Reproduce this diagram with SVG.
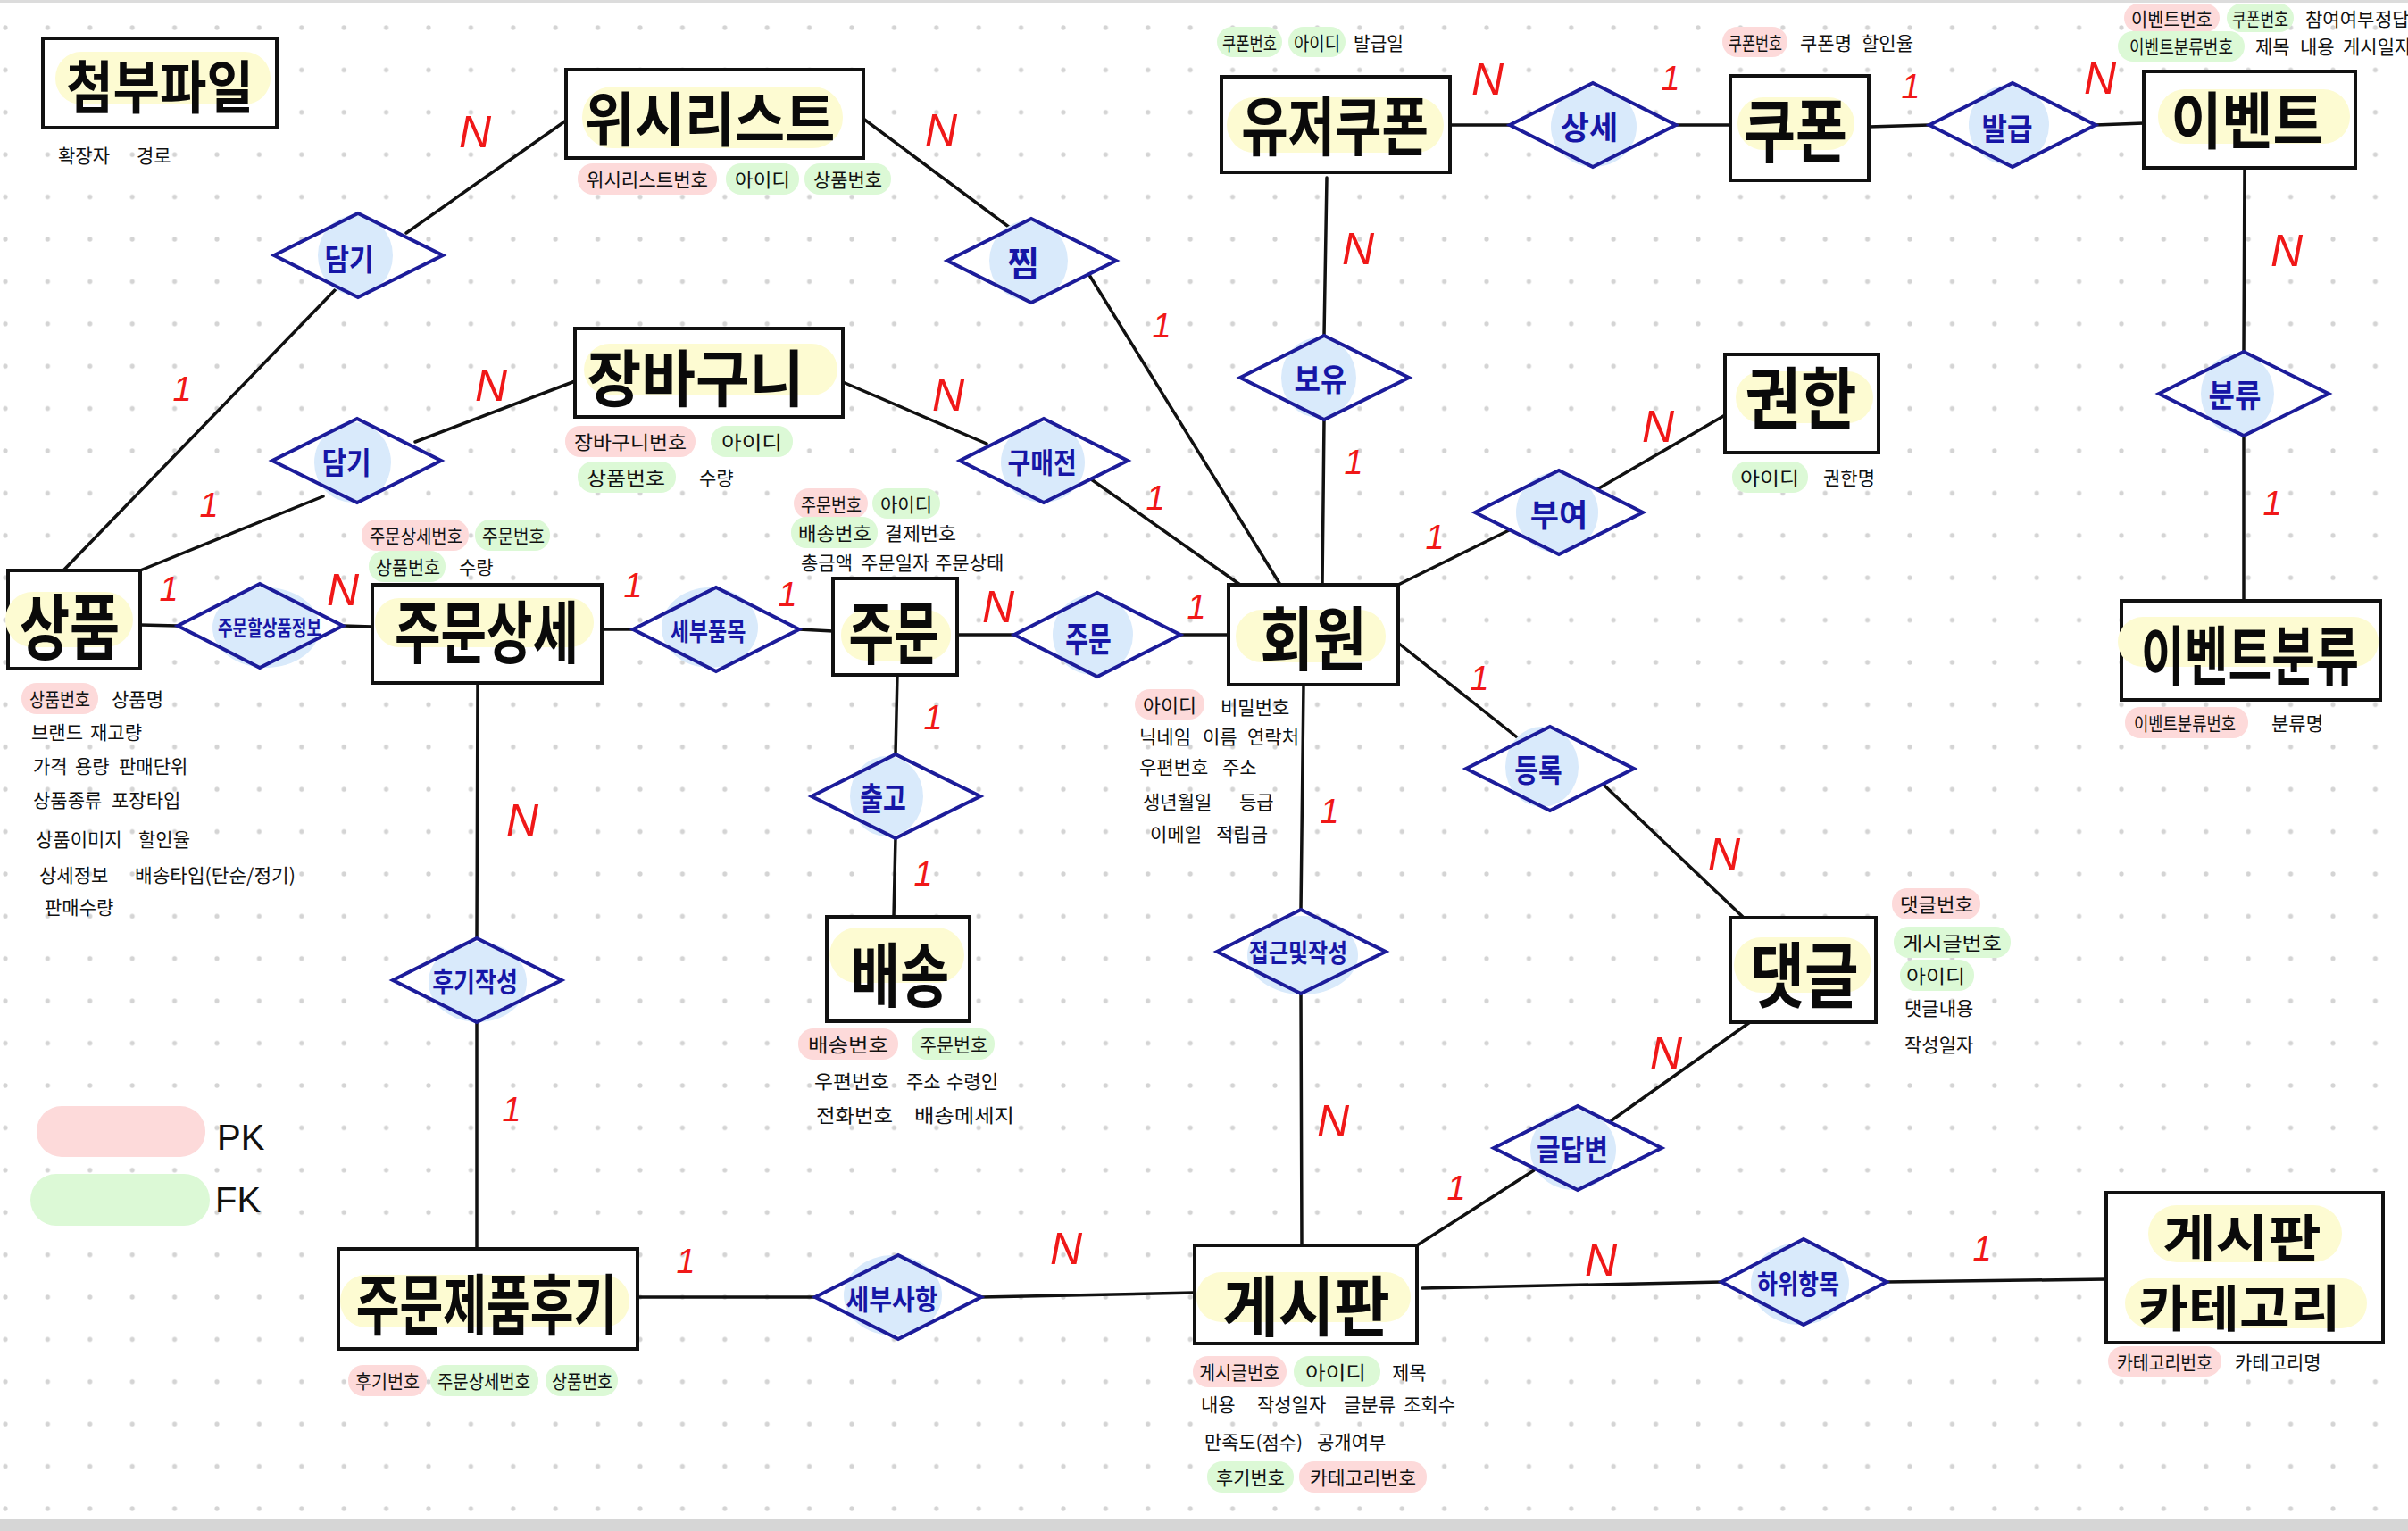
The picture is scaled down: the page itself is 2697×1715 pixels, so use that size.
<svg xmlns="http://www.w3.org/2000/svg" width="2697" height="1715" viewBox="0 0 2697 1715">
<style>
.box{fill:#fff;stroke:#111;stroke-width:4}
.hl{fill:#fdfbd2}
.title{font-family:"Noto Sans CJK KR","Noto Sans",sans-serif;font-weight:700;fill:#0a0a0a;text-anchor:middle;dominant-baseline:central}
.dfill{fill:#fff}
.dline{fill:none;stroke:#1c1c9a;stroke-width:4;stroke-linejoin:miter}
.blob{fill:#d9eafb}
.rt{font-family:"Noto Sans CJK KR","Noto Sans",sans-serif;font-weight:700;fill:#1616a6;text-anchor:middle;dominant-baseline:central}
.at{font-family:"Noto Sans CJK KR","Noto Sans",sans-serif;font-size:21px;fill:#111;dominant-baseline:central}
.pk{fill:#fddada}
.fk{fill:#dcf9d6}
.conn line{stroke:#111;stroke-width:3.5;stroke-linecap:round}
.card{font-family:"Liberation Sans",sans-serif;font-style:italic;fill:#f01818;text-anchor:middle;dominant-baseline:central}
.n{font-size:50px}
.one{font-size:38px}
.leg{font-family:"Liberation Sans",sans-serif;font-size:40px;fill:#111;dominant-baseline:central}
</style>
<defs>
<pattern id="dots" x="-17.7" y="7.3" width="47.4" height="47.4" patternUnits="userSpaceOnUse">
<circle cx="23.7" cy="23.7" r="2.6" fill="#d4d4d4"/>
</pattern>
</defs>
<rect x="0" y="0" width="2697" height="1715" fill="#fff"/>
<rect x="0" y="0" width="2697" height="1702" fill="url(#dots)"/>
<rect x="0" y="0" width="2697" height="3" fill="#dcdcdc"/>
<rect x="0" y="1702" width="2697" height="13" fill="#d6d6d6"/>

<g id="connectors" class="conn">
<line x1="634" y1="135" x2="455" y2="261"/>
<line x1="377" y1="323" x2="71" y2="639"/>
<line x1="644" y1="427" x2="465" y2="495"/>
<line x1="362" y1="556" x2="157" y2="639"/>
<line x1="967" y1="133" x2="1131" y2="255"/>
<line x1="1220" y1="308" x2="1434" y2="655"/>
<line x1="944" y1="428" x2="1105" y2="497"/>
<line x1="1218" y1="534" x2="1389" y2="655"/>
<line x1="157" y1="700" x2="199" y2="701"/>
<line x1="384" y1="701" x2="417" y2="702"/>
<line x1="674" y1="705" x2="709" y2="705"/>
<line x1="895" y1="705" x2="933" y2="707"/>
<line x1="1072" y1="711" x2="1136" y2="711"/>
<line x1="1322" y1="711" x2="1376" y2="711"/>
<line x1="1005" y1="756" x2="1003" y2="845"/>
<line x1="1003" y1="938" x2="1001" y2="1027"/>
<line x1="1624" y1="140" x2="1691" y2="140"/>
<line x1="1877" y1="140" x2="1938" y2="140"/>
<line x1="2093" y1="142" x2="2161" y2="140"/>
<line x1="2347" y1="140" x2="2401" y2="138"/>
<line x1="1486" y1="199" x2="1483" y2="376"/>
<line x1="1483" y1="470" x2="1481" y2="655"/>
<line x1="1932" y1="465" x2="1789" y2="548"/>
<line x1="1690" y1="594" x2="1566" y2="655"/>
<line x1="2514" y1="188" x2="2513" y2="394"/>
<line x1="2513" y1="487" x2="2513" y2="673"/>
<line x1="1567" y1="721" x2="1703" y2="829"/>
<line x1="1796" y1="879" x2="1953" y2="1028"/>
<line x1="1460" y1="767" x2="1457" y2="1019"/>
<line x1="1457" y1="1112" x2="1458" y2="1395"/>
<line x1="1960" y1="1145" x2="1805" y2="1255"/>
<line x1="1718" y1="1311" x2="1587" y2="1395"/>
<line x1="1593" y1="1443" x2="1928" y2="1436"/>
<line x1="2113" y1="1436" x2="2359" y2="1433"/>
<line x1="535" y1="765" x2="534" y2="1051"/>
<line x1="534" y1="1145" x2="534" y2="1399"/>
<line x1="714" y1="1453" x2="913" y2="1453"/>
<line x1="1099" y1="1453" x2="1338" y2="1448"/>
</g>

<!-- Entities -->
<g id="e-attach">
<rect class="box" x="48" y="43" width="262" height="100"/>
<rect class="hl" x="62" y="58" width="241" height="59" rx="29"/>
<text class="title" transform="translate(179,93) scale(1,1.11)" font-size="57">첨부파일</text>
<text class="at" x="65" y="173">확장자</text>
<text class="at" x="153" y="173">경로</text>
</g>

<g id="e-wishlist">
<rect class="box" x="634" y="78" width="333" height="99"/>
<rect class="hl" x="652" y="97" width="292" height="69" rx="34"/>
<text class="title" transform="translate(795,129) scale(1,1.08)" font-size="61">위시리스트</text>
<rect class="pk" x="647" y="183" width="156" height="35" rx="17"/>
<text class="at" x="657" y="200" textLength="136" lengthAdjust="spacingAndGlyphs">위시리스트번호</text>
<rect class="fk" x="813" y="183" width="82" height="35" rx="17"/>
<text class="at" x="823" y="200" textLength="62" lengthAdjust="spacingAndGlyphs">아이디</text>
<rect class="fk" x="901" y="183" width="97" height="35" rx="17"/>
<text class="at" x="911" y="200" textLength="77" lengthAdjust="spacingAndGlyphs">상품번호</text>
</g>

<g id="e-cart">
<rect class="box" x="644" y="368" width="300" height="99"/>
<rect class="hl" x="654" y="385" width="284" height="58" rx="29"/>
<text class="title" transform="translate(779,420) scale(1,1.05)" font-size="66">장바구니</text>
<rect class="pk" x="633" y="477" width="146" height="35" rx="17"/>
<text class="at" x="643" y="494" textLength="126" lengthAdjust="spacingAndGlyphs">장바구니번호</text>
<rect class="fk" x="796" y="477" width="92" height="35" rx="17"/>
<text class="at" x="808" y="494" textLength="68" lengthAdjust="spacingAndGlyphs">아이디</text>
<rect class="fk" x="647" y="517" width="110" height="35" rx="17"/>
<text class="at" x="657" y="534" textLength="88" lengthAdjust="spacingAndGlyphs">상품번호</text>
<text class="at" x="783" y="534">수량</text>
</g>

<g id="e-product">
<rect class="box" x="9" y="639" width="148" height="110"/>
<rect class="hl" x="6" y="663" width="143" height="62" rx="31"/>
<text class="title" transform="translate(78,697) scale(1,1.3)" font-size="61">상품</text>
<rect class="pk" x="24" y="765" width="86" height="35" rx="17"/>
<text class="at" x="33" y="782" textLength="68" lengthAdjust="spacingAndGlyphs">상품번호</text>
<text class="at" x="125" y="782">상품명</text>
<text class="at" x="35" y="819">브랜드</text>
<text class="at" x="101" y="819">재고량</text>
<text class="at" x="37" y="857">가격</text>
<text class="at" x="84" y="857">용량</text>
<text class="at" x="133" y="857">판매단위</text>
<text class="at" x="37" y="895">상품종류</text>
<text class="at" x="125" y="895">포장타입</text>
<text class="at" x="40" y="939">상품이미지</text>
<text class="at" x="155" y="939">할인율</text>
<text class="at" x="44" y="979">상세정보</text>
<text class="at" x="151" y="979" textLength="180" lengthAdjust="spacingAndGlyphs">배송타입(단순/정기)</text>
<text class="at" x="50" y="1015">판매수량</text>
</g>

<g id="e-orderdetail">
<rect class="box" x="417" y="655" width="257" height="110"/>
<rect class="hl" x="420" y="670" width="245" height="55" rx="27"/>
<text class="title" transform="translate(545,704) scale(1,1.35)" font-size="56">주문상세</text>
<rect class="pk" x="405" y="582" width="120" height="35" rx="17"/>
<text class="at" x="414" y="599" textLength="104" lengthAdjust="spacingAndGlyphs">주문상세번호</text>
<rect class="fk" x="532" y="582" width="84" height="35" rx="17"/>
<text class="at" x="540" y="599" textLength="70" lengthAdjust="spacingAndGlyphs">주문번호</text>
<rect class="fk" x="413" y="617" width="86" height="35" rx="17"/>
<text class="at" x="421" y="634" textLength="72" lengthAdjust="spacingAndGlyphs">상품번호</text>
<text class="at" x="514" y="634">수량</text>
</g>

<g id="e-order">
<rect class="box" x="933" y="648" width="139" height="108"/>
<rect class="hl" x="942" y="683" width="123" height="57" rx="28"/>
<text class="title" transform="translate(1001,704) scale(1,1.4)" font-size="55">주문</text>
<rect class="pk" x="889" y="547" width="83" height="34" rx="17"/>
<text class="at" x="897" y="564" textLength="68" lengthAdjust="spacingAndGlyphs">주문번호</text>
<rect class="fk" x="977" y="547" width="76" height="34" rx="17"/>
<text class="at" x="986" y="564" textLength="58" lengthAdjust="spacingAndGlyphs">아이디</text>
<rect class="fk" x="886" y="579" width="97" height="35" rx="17"/>
<text class="at" x="894" y="596" textLength="82" lengthAdjust="spacingAndGlyphs">배송번호</text>
<text class="at" x="991" y="596" textLength="80" lengthAdjust="spacingAndGlyphs">결제번호</text>
<text class="at" x="897" y="629" font-size="19">총금액</text>
<text class="at" x="964" y="629" font-size="18">주문일자</text>
<text class="at" x="1047" y="629" font-size="18">주문상태</text>
</g>

<g id="e-delivery">
<rect class="box" x="926" y="1027" width="160" height="117"/>
<rect class="hl" x="929" y="1039" width="151" height="62" rx="31"/>
<text class="title" transform="translate(1008,1088) scale(1,1.3)" font-size="60">배송</text>
<rect class="pk" x="894" y="1152" width="112" height="35" rx="17"/>
<text class="at" x="905" y="1169" textLength="90" lengthAdjust="spacingAndGlyphs">배송번호</text>
<rect class="fk" x="1021" y="1152" width="93" height="35" rx="17"/>
<text class="at" x="1030" y="1169" textLength="76" lengthAdjust="spacingAndGlyphs">주문번호</text>
<text class="at" x="912" y="1210" textLength="84" lengthAdjust="spacingAndGlyphs">우편번호</text>
<text class="at" x="1015" y="1210">주소</text>
<text class="at" x="1060" y="1210">수령인</text>
<text class="at" x="914" y="1248" textLength="86" lengthAdjust="spacingAndGlyphs">전화번호</text>
<text class="at" x="1024" y="1248" textLength="112" lengthAdjust="spacingAndGlyphs">배송메세지</text>
</g>

<g id="e-member">
<rect class="box" x="1376" y="655" width="190" height="112"/>
<rect class="hl" x="1384" y="683" width="168" height="59" rx="29"/>
<text class="title" transform="translate(1471,711) scale(1,1.2)" font-size="65">회원</text>
<rect class="pk" x="1271" y="772" width="78" height="34" rx="17"/>
<text class="at" x="1280" y="789" textLength="60" lengthAdjust="spacingAndGlyphs">아이디</text>
<text class="at" x="1367" y="791">비밀번호</text>
<text class="at" x="1276" y="824">닉네임</text>
<text class="at" x="1347" y="824">이름</text>
<text class="at" x="1397" y="824">연락처</text>
<text class="at" x="1276" y="858">우편번호</text>
<text class="at" x="1369" y="858">주소</text>
<text class="at" x="1280" y="897">생년월일</text>
<text class="at" x="1388" y="897">등급</text>
<text class="at" x="1288" y="933">이메일</text>
<text class="at" x="1362" y="933">적립금</text>
</g>

<g id="e-usercoupon">
<rect class="box" x="1368" y="86" width="256" height="107"/>
<rect class="hl" x="1374" y="109" width="243" height="62" rx="31"/>
<text class="title" transform="translate(1495,137) scale(1,1.25)" font-size="57">유저쿠폰</text>
<rect class="fk" x="1363" y="30" width="73" height="34" rx="17"/>
<text class="at" x="1369" y="47" textLength="61" lengthAdjust="spacingAndGlyphs">쿠폰번호</text>
<rect class="fk" x="1443" y="30" width="64" height="34" rx="17"/>
<text class="at" x="1449" y="47" textLength="52" lengthAdjust="spacingAndGlyphs">아이디</text>
<text class="at" x="1516" y="47" textLength="56" lengthAdjust="spacingAndGlyphs">발급일</text>
</g>

<g id="e-coupon">
<rect class="box" x="1938" y="85" width="155" height="117"/>
<rect class="hl" x="1946" y="109" width="131" height="59" rx="29"/>
<text class="title" transform="translate(2011,142) scale(1,1.25)" font-size="63">쿠폰</text>
<rect class="pk" x="1929" y="30" width="73" height="34" rx="17"/>
<text class="at" x="1936" y="47" textLength="60" lengthAdjust="spacingAndGlyphs">쿠폰번호</text>
<text class="at" x="2016" y="47" font-size="19">쿠폰명</text>
<text class="at" x="2085" y="47" font-size="19">할인율</text>
</g>

<g id="e-event">
<rect class="box" x="2401" y="80" width="237" height="108"/>
<rect class="hl" x="2417" y="100" width="215" height="61" rx="30"/>
<text class="title" transform="translate(2517,131) scale(1,1.12)" font-size="62">이벤트</text>
<rect class="pk" x="2379" y="4" width="107" height="32" rx="16"/>
<text class="at" x="2387" y="20" font-size="19" textLength="91" lengthAdjust="spacingAndGlyphs">이벤트번호</text>
<rect class="fk" x="2494" y="4" width="75" height="32" rx="16"/>
<text class="at" x="2500" y="20" font-size="19" textLength="63" lengthAdjust="spacingAndGlyphs">쿠폰번호</text>
<text class="at" x="2582" y="20" font-size="17">참여여부</text>
<text class="at" x="2660" y="20" font-size="17">정답</text>
<rect class="fk" x="2372" y="35" width="142" height="34" rx="17"/>
<text class="at" x="2385" y="51" font-size="19" textLength="116" lengthAdjust="spacingAndGlyphs">이벤트분류번호</text>
<text class="at" x="2526" y="51" font-size="18">제목</text>
<text class="at" x="2576" y="51" font-size="18">내용</text>
<text class="at" x="2624" y="51" font-size="17">게시일자</text>
</g>

<g id="e-auth">
<rect class="box" x="1932" y="397" width="172" height="110"/>
<rect class="hl" x="1944" y="416" width="154" height="58" rx="29"/>
<text class="title" transform="translate(2017,442) scale(1,1.1)" font-size="68">권한</text>
<rect class="fk" x="1940" y="517" width="85" height="35" rx="17"/>
<text class="at" x="1949" y="534" textLength="66" lengthAdjust="spacingAndGlyphs">아이디</text>
<text class="at" x="2042" y="534">권한명</text>
</g>

<g id="e-eventcat">
<rect class="box" x="2376" y="673" width="290" height="111"/>
<rect class="hl" x="2372" y="691" width="292" height="56" rx="28"/>
<text class="title" transform="translate(2520,730) scale(1,1.35)" font-size="53">이벤트분류</text>
<rect class="pk" x="2380" y="792" width="138" height="35" rx="17"/>
<text class="at" x="2390" y="809" font-size="19" textLength="114" lengthAdjust="spacingAndGlyphs">이벤트분류번호</text>
<text class="at" x="2544" y="809" font-size="18">분류명</text>
</g>

<g id="e-comment">
<rect class="box" x="1938" y="1028" width="163" height="117"/>
<rect class="hl" x="1942" y="1050" width="154" height="62" rx="31"/>
<text class="title" transform="translate(2021,1087) scale(1,1.2)" font-size="66">댓글</text>
<rect class="pk" x="2119" y="995" width="99" height="35" rx="17"/>
<text class="at" x="2128" y="1012" textLength="82" lengthAdjust="spacingAndGlyphs">댓글번호</text>
<rect class="fk" x="2121" y="1038" width="131" height="35" rx="17"/>
<text class="at" x="2131" y="1055" textLength="111" lengthAdjust="spacingAndGlyphs">게시글번호</text>
<rect class="fk" x="2128" y="1075" width="83" height="35" rx="17"/>
<text class="at" x="2135" y="1092" textLength="66" lengthAdjust="spacingAndGlyphs">아이디</text>
<text class="at" x="2133" y="1128">댓글내용</text>
<text class="at" x="2133" y="1169">작성일자</text>
</g>

<g id="e-review">
<rect class="box" x="379" y="1399" width="335" height="112"/>
<rect class="hl" x="381" y="1428" width="324" height="59" rx="29"/>
<text class="title" transform="translate(545,1457) scale(1,1.4)" font-size="53">주문제품후기</text>
<rect class="pk" x="390" y="1529" width="88" height="35" rx="17"/>
<text class="at" x="398" y="1546" textLength="72" lengthAdjust="spacingAndGlyphs">후기번호</text>
<rect class="fk" x="482" y="1529" width="121" height="35" rx="17"/>
<text class="at" x="490" y="1546" textLength="104" lengthAdjust="spacingAndGlyphs">주문상세번호</text>
<rect class="fk" x="611" y="1529" width="81" height="35" rx="17"/>
<text class="at" x="618" y="1546" textLength="68" lengthAdjust="spacingAndGlyphs">상품번호</text>
</g>

<g id="e-board">
<rect class="box" x="1338" y="1395" width="249" height="110"/>
<rect class="hl" x="1340" y="1425" width="240" height="56" rx="28"/>
<text class="title" transform="translate(1463,1459) scale(1,1.08)" font-size="68">게시판</text>
<rect class="pk" x="1336" y="1519" width="105" height="35" rx="17"/>
<text class="at" x="1343" y="1536" textLength="90" lengthAdjust="spacingAndGlyphs">게시글번호</text>
<rect class="fk" x="1449" y="1519" width="97" height="35" rx="17"/>
<text class="at" x="1462" y="1536" textLength="68" lengthAdjust="spacingAndGlyphs">아이디</text>
<text class="at" x="1559" y="1536">제목</text>
<text class="at" x="1345" y="1572" font-size="20">내용</text>
<text class="at" x="1408" y="1572" font-size="20">작성일자</text>
<text class="at" x="1505" y="1572" font-size="20">글분류</text>
<text class="at" x="1572" y="1572" font-size="20">조회수</text>
<text class="at" x="1349" y="1614" textLength="110" lengthAdjust="spacingAndGlyphs">만족도(점수)</text>
<text class="at" x="1475" y="1614">공개여부</text>
<rect class="fk" x="1352" y="1637" width="97" height="35" rx="17"/>
<text class="at" x="1362" y="1654" textLength="77" lengthAdjust="spacingAndGlyphs">후기번호</text>
<rect class="pk" x="1455" y="1637" width="143" height="35" rx="17"/>
<text class="at" x="1467" y="1654" textLength="119" lengthAdjust="spacingAndGlyphs">카테고리번호</text>
</g>

<g id="e-boardcat">
<rect class="box" x="2359" y="1336" width="310" height="168"/>
<rect class="hl" x="2406" y="1350" width="217" height="64" rx="32"/>
<rect class="hl" x="2380" y="1432" width="271" height="56" rx="28"/>
<text class="title" transform="translate(2511,1382) scale(1.15,1)" font-size="56">게시판</text>
<text class="title" transform="translate(2508,1462) scale(1.1,1)" font-size="56">카테고리</text>
<rect class="pk" x="2361" y="1508" width="127" height="34" rx="17"/>
<text class="at" x="2371" y="1525" font-size="19" textLength="107" lengthAdjust="spacingAndGlyphs">카테고리번호</text>
<text class="at" x="2503" y="1525" font-size="19">카테고리명</text>
</g>

<!-- Relationships -->
<g id="r-put1">
<polygon class="dfill" points="307,286 401,239 496,286 401,333"/>
<ellipse class="blob" cx="398" cy="286" rx="42" ry="45"/>
<polygon class="dline" points="307,286 401,239 496,286 401,333"/>
<text class="rt" transform="translate(391,288) scale(1,1.15)" font-size="30">담기</text>
</g>
<g id="r-put2">
<polygon class="dfill" points="305,516 400,469 494,516 400,563"/>
<ellipse class="blob" cx="395" cy="518" rx="43" ry="45"/>
<polygon class="dline" points="305,516 400,469 494,516 400,563"/>
<text class="rt" transform="translate(388,516) scale(1,1.15)" font-size="30">담기</text>
</g>
<g id="r-like">
<polygon class="dfill" points="1061,292 1155,245 1250,292 1155,339"/>
<ellipse class="blob" cx="1152" cy="292" rx="44" ry="45"/>
<polygon class="dline" points="1061,292 1155,245 1250,292 1155,339"/>
<text class="rt" x="1146" y="292" font-size="38">찜</text>
</g>
<g id="r-prebuy">
<polygon class="dfill" points="1075,516 1169,469 1263,516 1169,563"/>
<ellipse class="blob" cx="1168" cy="518" rx="47" ry="45"/>
<polygon class="dline" points="1075,516 1169,469 1263,516 1169,563"/>
<text class="rt" transform="translate(1167,516) scale(1,1.15)" font-size="28">구매전</text>
</g>
<g id="r-orderitem">
<polygon class="dfill" points="199,701 291,654 384,701 291,748"/>
<ellipse class="blob" cx="298" cy="703" rx="60" ry="45"/>
<polygon class="dline" points="199,701 291,654 384,701 291,748"/>
<text class="rt" transform="translate(302,701) scale(1,1.35)" font-size="18">주문할상품정보</text>
</g>
<g id="r-subitem">
<polygon class="dfill" points="709,705 802,658 895,705 802,752"/>
<ellipse class="blob" cx="795" cy="703" rx="54" ry="45"/>
<polygon class="dline" points="709,705 802,658 895,705 802,752"/>
<text class="rt" transform="translate(793,705) scale(1,1.25)" font-size="23">세부품목</text>
</g>
<g id="r-order">
<polygon class="dfill" points="1136,711 1229,664 1322,711 1229,758"/>
<ellipse class="blob" cx="1224" cy="711" rx="45" ry="45"/>
<polygon class="dline" points="1136,711 1229,664 1322,711 1229,758"/>
<text class="rt" transform="translate(1219,713) scale(1,1.4)" font-size="28">주문</text>
</g>
<g id="r-ship">
<polygon class="dfill" points="909,892 1003,845 1098,892 1003,939"/>
<ellipse class="blob" cx="993" cy="892" rx="41" ry="45"/>
<polygon class="dline" points="909,892 1003,845 1098,892 1003,939"/>
<text class="rt" transform="translate(989,892) scale(1,1.3)" font-size="28">출고</text>
</g>
<g id="r-own">
<polygon class="dfill" points="1389,423 1483,376 1578,423 1483,470"/>
<ellipse class="blob" cx="1477" cy="423" rx="42" ry="45"/>
<polygon class="dline" points="1389,423 1483,376 1578,423 1483,470"/>
<text class="rt" transform="translate(1479,423) scale(1,1.1)" font-size="32">보유</text>
</g>
<g id="r-detail">
<polygon class="dfill" points="1691,140 1784,93 1877,140 1784,187"/>
<ellipse class="blob" cx="1785" cy="142" rx="48" ry="45"/>
<polygon class="dline" points="1691,140 1784,93 1877,140 1784,187"/>
<text class="rt" x="1780" y="140" font-size="35">상세</text>
</g>
<g id="r-issue">
<polygon class="dfill" points="2161,140 2254,93 2347,140 2254,187"/>
<ellipse class="blob" cx="2250" cy="140" rx="45" ry="45"/>
<polygon class="dline" points="2161,140 2254,93 2347,140 2254,187"/>
<text class="rt" transform="translate(2248,142) scale(1,1.1)" font-size="31">발급</text>
</g>
<g id="r-grant">
<polygon class="dfill" points="1652,574 1746,527 1840,574 1746,621"/>
<ellipse class="blob" cx="1744" cy="574" rx="46" ry="45"/>
<polygon class="dline" points="1652,574 1746,527 1840,574 1746,621"/>
<text class="rt" x="1746" y="574" font-size="35">부여</text>
</g>
<g id="r-classify">
<polygon class="dfill" points="2418,441 2513,394 2608,441 2513,488"/>
<ellipse class="blob" cx="2506" cy="441" rx="41" ry="45"/>
<polygon class="dline" points="2418,441 2513,394 2608,441 2513,488"/>
<text class="rt" transform="translate(2503,441) scale(1,1.1)" font-size="32">분류</text>
</g>
<g id="r-register">
<polygon class="dfill" points="1642,861 1736,814 1830,861 1736,908"/>
<ellipse class="blob" cx="1727" cy="859" rx="41" ry="45"/>
<polygon class="dline" points="1642,861 1736,814 1830,861 1736,908"/>
<text class="rt" transform="translate(1723,861) scale(1,1.2)" font-size="29">등록</text>
</g>
<g id="r-access">
<polygon class="dfill" points="1363,1066 1457,1019 1552,1066 1457,1113"/>
<ellipse class="blob" cx="1459" cy="1070" rx="62" ry="44"/>
<polygon class="dline" points="1363,1066 1457,1019 1552,1066 1457,1113"/>
<text class="rt" transform="translate(1454,1066) scale(1,1.2)" font-size="24">접근및작성</text>
</g>
<g id="r-writereview">
<polygon class="dfill" points="440,1098 534,1051 629,1098 534,1145"/>
<ellipse class="blob" cx="535" cy="1100" rx="55" ry="45"/>
<polygon class="dline" points="440,1098 534,1051 629,1098 534,1145"/>
<text class="rt" transform="translate(532,1097) scale(1,1.2)" font-size="26">후기작성</text>
</g>
<g id="r-details">
<polygon class="dfill" points="913,1453 1006,1406 1099,1453 1006,1500"/>
<ellipse class="blob" cx="1000" cy="1451" rx="55" ry="45"/>
<polygon class="dline" points="913,1453 1006,1406 1099,1453 1006,1500"/>
<text class="rt" transform="translate(999,1453) scale(1,1.1)" font-size="28">세부사항</text>
</g>
<g id="r-reply">
<polygon class="dfill" points="1673,1286 1767,1239 1861,1286 1767,1333"/>
<ellipse class="blob" cx="1762" cy="1288" rx="48" ry="45"/>
<polygon class="dline" points="1673,1286 1767,1239 1861,1286 1767,1333"/>
<text class="rt" transform="translate(1761,1286) scale(1,1.15)" font-size="29">글답변</text>
</g>
<g id="r-subcat">
<polygon class="dfill" points="1928,1436 2020,1388 2113,1436 2020,1484"/>
<ellipse class="blob" cx="2016" cy="1438" rx="55" ry="46"/>
<polygon class="dline" points="1928,1436 2020,1388 2113,1436 2020,1484"/>
<text class="rt" transform="translate(2014,1436) scale(1,1.2)" font-size="25">하위항목</text>
</g>

<!-- Cardinalities -->
<g id="cardinalities" class="card">
<text class="n" x="532" y="148">N</text>
<text class="one" x="204" y="436">1</text>
<text class="n" x="550" y="432">N</text>
<text class="one" x="234" y="566">1</text>
<text class="n" x="1054" y="146">N</text>
<text class="one" x="1301" y="365">1</text>
<text class="n" x="1062" y="443">N</text>
<text class="one" x="1294" y="558">1</text>
<text class="one" x="189" y="660">1</text>
<text class="n" x="384" y="661">N</text>
<text class="one" x="709" y="656">1</text>
<text class="one" x="882" y="666">1</text>
<text class="n" x="1118" y="680">N</text>
<text class="one" x="1340" y="680">1</text>
<text class="one" x="1045" y="804">1</text>
<text class="one" x="1034" y="979">1</text>
<text class="n" x="585" y="919">N</text>
<text class="one" x="573" y="1243">1</text>
<text class="one" x="768" y="1413">1</text>
<text class="n" x="1194" y="1399">N</text>
<text class="n" x="1666" y="89">N</text>
<text class="one" x="1871" y="88">1</text>
<text class="one" x="2140" y="97">1</text>
<text class="n" x="2352" y="88">N</text>
<text class="n" x="1521" y="279">N</text>
<text class="one" x="1516" y="518">1</text>
<text class="n" x="1857" y="478">N</text>
<text class="one" x="1607" y="602">1</text>
<text class="n" x="2561" y="281">N</text>
<text class="one" x="2545" y="564">1</text>
<text class="one" x="1657" y="760">1</text>
<text class="n" x="1931" y="957">N</text>
<text class="one" x="1489" y="909">1</text>
<text class="n" x="1493" y="1256">N</text>
<text class="n" x="1866" y="1180">N</text>
<text class="one" x="1631" y="1331">1</text>
<text class="n" x="1793" y="1412">N</text>
<text class="one" x="2220" y="1399">1</text>
</g>

<!-- Legend -->
<g id="legend">
<rect class="pk" x="41" y="1239" width="189" height="57" rx="28"/>
<rect class="fk" x="34" y="1315" width="201" height="58" rx="29"/>
<text class="leg" x="243" y="1274">PK</text>
<text class="leg" x="241" y="1344">FK</text>
</g>
</svg>
